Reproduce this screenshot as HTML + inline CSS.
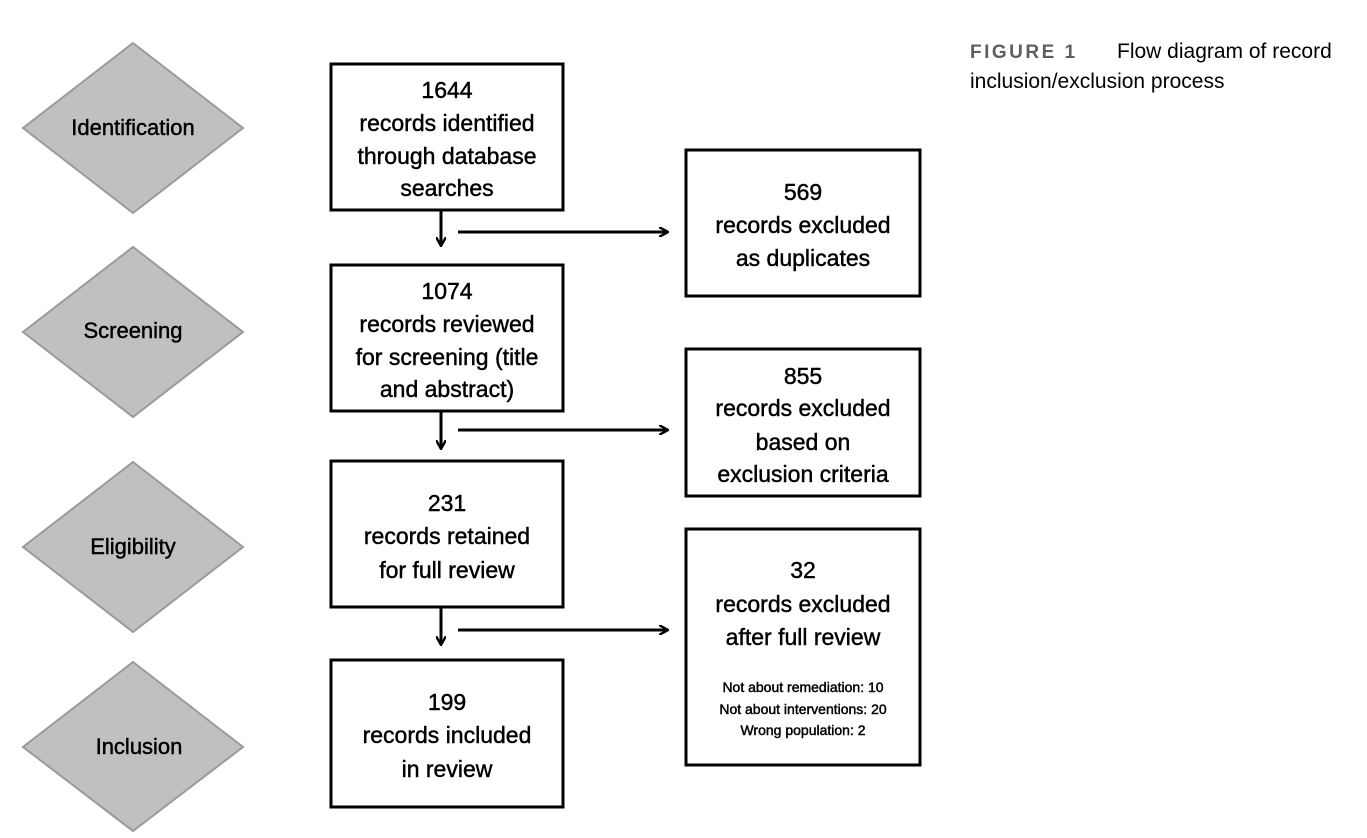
<!DOCTYPE html>
<html><head><meta charset="utf-8"><style>
html,body{margin:0;padding:0;background:#fff;}
svg{display:block;}
text{font-family:"Liberation Sans",sans-serif;fill:#000;}
.b text{stroke:#000;stroke-width:0.45;}
</style></head><body>
<svg width="1367" height="838" viewBox="0 0 1367 838" xmlns="http://www.w3.org/2000/svg">
<defs>
<marker id="ah" markerWidth="10" markerHeight="10" refX="8" refY="5" orient="auto" markerUnits="userSpaceOnUse">
<path d="M0,0 L9,5 L0,10" fill="none" stroke="#000" stroke-width="2.4"/>
</marker>
</defs>
<g fill="#c0c0c0" stroke="#9a9a9a" stroke-width="2">
<polygon points="133,43 243,128 133,213 23,128"/>
<polygon points="133,247 243,332 133,417 23,332"/>
<polygon points="133,462 243,547 133,632 23,547"/>
<polygon points="133,662 243,747 133,831 23,747"/>
</g>
<g font-size="22" text-anchor="middle" class="b">
<text x="133" y="135">Identification</text>
<text x="133" y="338">Screening</text>
<text x="133" y="554">Eligibility</text>
<text x="139" y="754">Inclusion</text>
</g>
<g fill="none" stroke="#000" stroke-width="3">
<rect x="331" y="64" width="232" height="146"/>
<rect x="331" y="265" width="232" height="146"/>
<rect x="331" y="461" width="232" height="146"/>
<rect x="331" y="660" width="232" height="147"/>
<rect x="686" y="150" width="234" height="146"/>
<rect x="686" y="349" width="234" height="147"/>
<rect x="686" y="529" width="234" height="236"/>
</g>
<g stroke="#000" stroke-width="3" fill="none">
<line x1="441" y1="211" x2="441" y2="245" marker-end="url(#ah)"/>
<line x1="458" y1="232" x2="667" y2="232" marker-end="url(#ah)"/>
<line x1="441" y1="412" x2="441" y2="448" marker-end="url(#ah)"/>
<line x1="458" y1="430" x2="667" y2="430" marker-end="url(#ah)"/>
<line x1="441" y1="608" x2="441" y2="644" marker-end="url(#ah)"/>
<line x1="458" y1="630" x2="667" y2="630" marker-end="url(#ah)"/>
</g>
<g font-size="23" text-anchor="middle" class="b">
<text x="447" y="98">1644</text>
<text x="447" y="131">records identified</text>
<text x="447" y="164">through database</text>
<text x="447" y="196">searches</text>
<text x="447" y="299">1074</text>
<text x="447" y="332">records reviewed</text>
<text x="447" y="365">for screening (title</text>
<text x="447" y="397">and abstract)</text>
<text x="447" y="511">231</text>
<text x="447" y="544">records retained</text>
<text x="447" y="578">for full review</text>
<text x="447" y="710">199</text>
<text x="447" y="743">records included</text>
<text x="447" y="777">in review</text>
<text x="803" y="200">569</text>
<text x="803" y="233">records excluded</text>
<text x="803" y="266">as duplicates</text>
<text x="803" y="384">855</text>
<text x="803" y="416">records excluded</text>
<text x="803" y="450">based on</text>
<text x="803" y="482">exclusion criteria</text>
<text x="803" y="578">32</text>
<text x="803" y="612">records excluded</text>
<text x="803" y="645">after full review</text>
</g>
<g font-size="14" text-anchor="middle" class="b" style="stroke-width:0.2">
<text x="803" y="692">Not about remediation: 10</text>
<text x="803" y="714">Not about interventions: 20</text>
<text x="803" y="735">Wrong population: 2</text>
</g>
<text x="970" y="58" font-size="19" font-weight="bold" letter-spacing="2.5" style="fill:#5a5f66">FIGURE 1</text>
<text x="1117" y="58" font-size="21">Flow diagram of record</text>
<text x="970" y="88" font-size="21">inclusion/exclusion process</text>
</svg>
</body></html>
